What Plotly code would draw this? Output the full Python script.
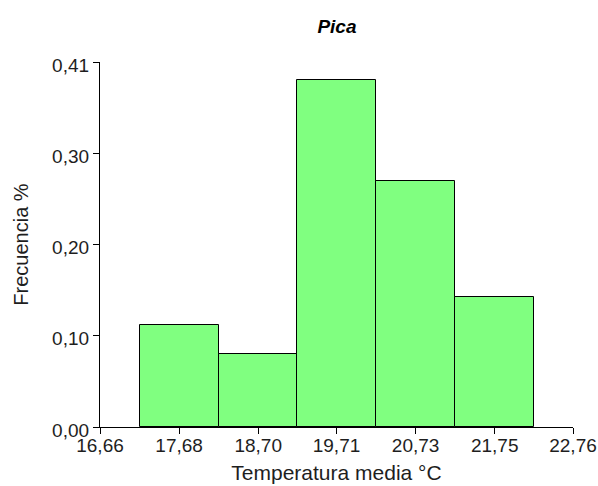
import plotly.graph_objects as go

# Histogram of mean temperature (Pica)
tick_values = [16.66, 17.68, 18.70, 19.71, 20.73, 21.75, 22.76]
tick_labels = ["16,66", "17,68", "18,70", "19,71", "20,73", "21,75", "22,76"]
bin_centers = [17.68, 18.70, 19.71, 20.73, 21.75]
frequencies = [0.112, 0.080, 0.380, 0.270, 0.143]
y_tick_values = [0.0, 0.10, 0.20, 0.30, 0.40]
y_tick_labels = ["0,00", "0,10", "0,20", "0,30", "0,41"]

bin_width = (tick_values[-1] - tick_values[0]) / (len(tick_values) - 1)

fig = go.Figure(
    go.Bar(
        x=bin_centers,
        y=frequencies,
        width=[bin_width] * len(bin_centers),
        marker=dict(color="#80FF80", line=dict(color="#000000", width=1)),
        hoverinfo="x+y",
    )
)

font_family = "Liberation Sans, Arial, sans-serif"
text_color = "#1e1e1e"

fig.update_layout(
    width=598,
    height=486,
    margin=dict(l=100, r=25, t=62, b=59, autoexpand=False),
    paper_bgcolor="white",
    plot_bgcolor="white",
    showlegend=False,
    font=dict(family=font_family, size=19, color=text_color),
    title=dict(
        text="<b><i>Pica</i></b>",
        x=0.5635,
        xanchor="center",
        y=0.945,
        yanchor="middle",
        font=dict(family=font_family, size=19, color="#000000"),
    ),
    xaxis=dict(
        range=[tick_values[0], tick_values[-1]],
        tickvals=tick_values,
        ticktext=tick_labels,
        ticks="outside",
        ticklen=6,
        tickcolor="#000000",
        ticklabelstandoff=-5,
        showline=True,
        linecolor="#000000",
        linewidth=1.2,
        showgrid=False,
        zeroline=False,
        automargin=False,
        tickfont=dict(size=19, color=text_color),
        title=dict(text="Temperatura media °C", font=dict(size=21, color=text_color), standoff=10),
    ),
    yaxis=dict(
        range=[0, 0.40],
        tickvals=y_tick_values,
        ticktext=y_tick_labels,
        ticks="outside",
        ticklen=6,
        tickcolor="#000000",
        ticklabelshift=3,
        showline=True,
        linecolor="#000000",
        linewidth=1.2,
        showgrid=False,
        zeroline=False,
        automargin=False,
        tickfont=dict(size=19, color=text_color),
        title=dict(text="Frecuencia %", font=dict(size=20, color=text_color), standoff=18),
    ),
    bargap=0,
)

fig.write_html("out.html")
